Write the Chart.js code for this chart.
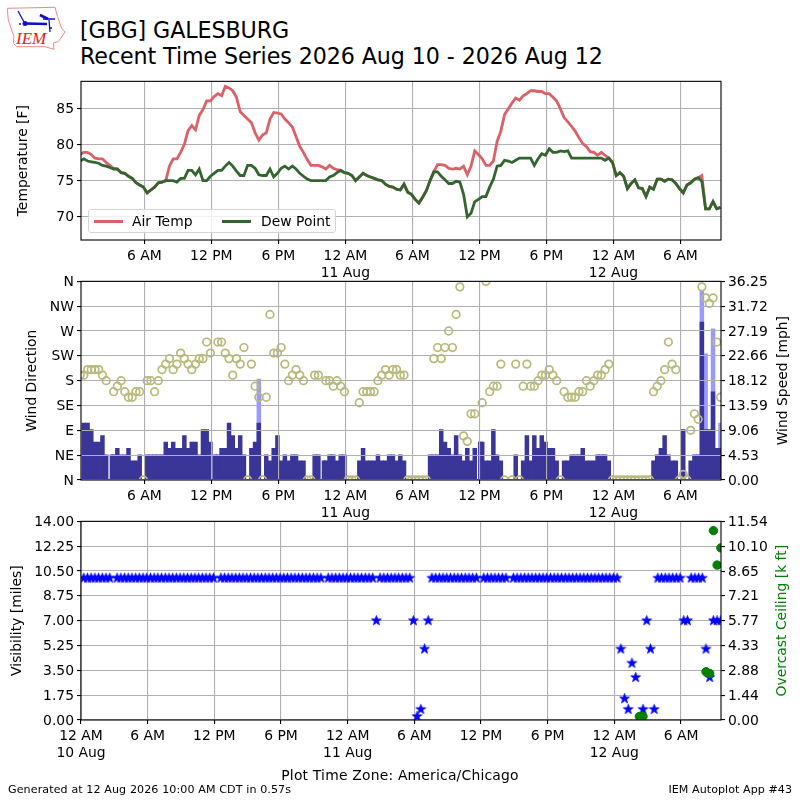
<!DOCTYPE html>
<html><head><meta charset="utf-8">
<script src="https://cdn.jsdelivr.net/npm/chart.js@4"></script>
<style>
html,body{margin:0;padding:0;background:#fff;width:800px;height:800px;overflow:hidden}
body{position:relative;font-family:"DejaVu Sans";color:#000}
canvas{position:absolute;left:0}
.t{position:absolute;white-space:nowrap;line-height:1}
#legend{position:absolute;left:87.5px;top:208.5px;width:248px;height:24px;border:1px solid #d5d5d5;border-radius:3px;background:rgba(255,255,255,.8);box-sizing:border-box;z-index:5}
#legend i{position:absolute;height:3px;top:10px;width:29px}
#legend span{position:absolute;top:3px;font-size:13.9px;line-height:16px;white-space:nowrap}
</style></head><body>
<svg style="position:absolute;left:0;top:0" width="70" height="55" viewBox="0 0 70 55">
<path d="M7.3 8.3 L55 7.3 L57.5 16.5 L61.5 28 L65 32 L58.5 41.5 L53.5 43 L54 49.3 L45 46.7 L16.7 46.7 L13.3 43.3 L14 36.7 L8.3 20 Z" fill="none" stroke="#e88" stroke-width="1"/>
<path d="M25 23.5 L47 24 M40 15 L50 19.5 M18 11 L24 22 M49 20 L50 32 M43 19 L55 19" stroke="#11c" stroke-width="1.3" fill="none"/>
<path d="M25 23.5 L47 24 M40 15 L48 19" stroke="#11c" stroke-width="2.6" fill="none"/>
<circle cx="25" cy="23.5" r="2.5" fill="#11c"/><circle cx="20" cy="24" r="1" fill="#11c"/><circle cx="51" cy="28" r="1" fill="#11c"/>
<text x="16" y="44" font-family="Liberation Serif" font-style="italic" font-size="17" fill="#d22">IEM</text>
</svg>
<div class="t" id="t1" style="left:80px;top:19px;font-size:22.2px;letter-spacing:-.09px">[GBG] GALESBURG</div>
<div class="t" id="t2" style="left:80px;top:45px;font-size:22.2px;letter-spacing:-.09px">Recent Time Series 2026 Aug 10 - 2026 Aug 12</div>
<div id="legend">
<i style="left:5px;background:#dc6068"></i><span style="left:43.5px">Air Temp</span>
<i style="left:133.5px;background:#33662f"></i><span style="left:172.5px">Dew Point</span>
</div>
<canvas id="c1" style="top:70px" width="800" height="210"></canvas>
<canvas id="c2" style="top:270px" width="800" height="255"></canvas>
<canvas id="c3" style="top:510px" width="800" height="260"></canvas>
<div class="t" style="left:0;width:800px;text-align:center;top:769px;font-size:13.9px;letter-spacing:.2px">Plot Time Zone: America/Chicago</div>
<div class="t" style="left:8px;top:784px;font-size:11.1px;letter-spacing:.1px">Generated at 12 Aug 2026 10:00 AM CDT in 0.57s</div>
<div class="t" style="right:8px;top:784px;font-size:11.1px;letter-spacing:.05px">IEM Autoplot App #43</div>
<script>
const firstObsHour = 0.25, obsStepHours = 1/3;
const airTemp = [78.6,78.9,78.9,78.6,78.1,78,78,77.5,77.1,76.7,76.6,76.1,76,75.6,75.3,74.7,74.4,74.1,73.3,73.7,74.1,74.7,74.8,75,77,78,78,78.9,80,81.9,82.6,82,84,84.8,86,86,86.6,87,86.7,88,87.8,87.4,86.5,84.5,84,83.5,83,81.6,80.6,81.3,81.6,83.5,84.4,84.3,84.2,83.5,83,82.4,81.1,79.7,78.9,77.9,77.1,77.1,77.1,76.9,76.6,77.1,76.7,76.5,76.4,76.1,76,75.7,75,75.5,76,75.7,75.5,75.3,75.1,75,74.5,74.2,74.1,73.8,73.7,74.5,73.4,73.1,72.4,71.9,72.7,73.6,75,76.2,77.2,77.2,77.1,76.7,76.6,76.7,76.6,77,75.8,77,79.1,78.6,78,77.1,77.1,77.7,80.4,81.8,84.1,84.9,85.7,86.4,86.1,86.7,87,87.4,87.4,87.3,87.3,87,87,86.5,86,84.9,83.7,83.1,82.5,81.8,80.9,80.1,79.7,79,78.9,78.5,78.9,78.5,78.1,77.5,75.7,76.1,75.6,73.9,74.6,75.1,74,73.9,72.8,74.1,73.8,75.2,75.2,74.9,75.2,75.1,74.6,73.9,73.3,74.4,74.7,75.2,75.4,75.7,71.1,71.1,72.1,71.1,71.3];
const dewPoint = [77.7,78,77.7,77.6,77.5,77.4,77.1,77,76.8,76.6,76.6,76.1,76,75.6,75.3,74.7,74.4,74.1,73.3,73.7,74.1,74.7,74.8,75,75,75,74.8,75.3,75.3,76.4,76.4,75.8,76.6,75,75,75.6,76,76.4,76.4,77,77.5,77,76.3,75.7,75.7,77.1,77.1,76.7,75.8,75.7,75.7,76.6,75.5,76,76.7,77,76.6,77,76.6,76,75.6,75.2,75,75,75,75,75,75.5,75.7,76.1,76.4,76.1,76,75.7,75,75.5,76,75.7,75.5,75.3,75.1,75,74.5,74.2,74.1,73.8,73.7,74.5,73.4,73.1,72.4,71.9,72.7,73.6,75,76.2,76.2,75.6,75.1,74.6,74.6,74.9,74.8,73.1,70,70.5,72.1,72.4,72.8,72.8,74.1,75.2,77,77.1,77.8,77.7,77.5,77.8,78.1,78.1,78.1,78.1,77.1,78,78.7,78.5,79.4,78.9,78.9,79.1,79,79.1,78.1,78.1,78.1,78.1,78.1,78.1,78.1,78.1,78.1,77.8,78.1,77.5,75.7,76.1,75.6,73.9,74.6,75.1,74,73.9,72.8,74.1,73.8,75.2,75.2,74.9,75.2,75.1,74.6,73.9,73.3,74.4,74.7,75.2,75.4,74.9,71.1,71.1,72.1,71.1,71.3];
const windDir = [190,190,200,200,200,200,190,180,null,160,170,180,160,150,150,160,160,0,180,180,160,180,200,210,220,200,210,230,220,210,200,210,220,220,250,230,null,250,250,230,220,190,220,210,240,0,210,170,150,0,150,300,230,230,240,210,180,190,200,190,180,0,0,190,190,null,180,180,170,180,170,160,0,0,0,140,160,160,160,160,180,190,200,190,200,200,190,190,0,0,0,0,0,0,null,220,240,220,240,270,240,300,350,80,70,120,120,null,140,360,160,170,170,210,0,null,0,210,0,170,210,170,170,180,190,190,200,190,180,0,160,150,150,150,160,160,180,170,180,190,190,200,210,0,0,0,0,0,0,0,0,0,0,0,160,170,180,200,250,210,200,0,10,0,90,120,110,350,330,320,330,250,150];
const windSpeed = [null,10.4,10.4,9.2,6.9,6.9,8.1,4.6,null,4.6,5.8,4.6,4.6,5.8,3.5,3.5,4.6,0,4.6,4.6,4.6,4.6,4.6,6.9,5.8,6.9,5.8,5.8,8.1,5.8,6.9,6.9,4.6,9.2,9.2,6.9,null,4.6,5.8,5.8,10.4,8.1,5.8,8.1,4.6,0,5.8,6.9,10.4,0,4.6,3.5,5.8,8.1,3.5,4.6,3.5,4.6,4.6,3.5,3.5,0,0,4.6,4.6,null,3.5,4.6,4.6,3.5,4.6,4.6,0,0,0,3.5,5.8,3.5,3.5,3.5,4.6,3.5,3.5,4.6,4.6,3.5,4.6,3.5,0,0,0,0,0,0,4.6,4.6,4.6,9.2,6.9,5.8,4.6,8.1,4.6,3.5,5.8,3.5,5.8,null,6.9,3.5,3.5,9.2,4.6,3.5,0,null,0,4.6,0,3.5,8.1,3.5,8.1,5.8,8.1,6.9,5.8,5.8,3.5,0,3.5,3.5,4.6,4.6,4.6,5.8,3.5,3.5,3.5,4.6,4.6,4.6,3.5,0,0,0,0,0,0,0,0,0,0,0,3.5,4.6,5.8,8.1,4.6,3.5,3.5,0,9.2,0,3.5,4.6,4.6,28.8,9.2,9.2,16.1,5.8,5.8];
const offGridBarObs = [8.55,36.3,65.5,107.5];
const offGridBarSpeed = [4.6,4.6,3.5,6.9];
const gustObs = [48,167,168,170,172];
const gustSpeed = [18.4,34.5,23,27.6,10.4];
const visibility = [10,10,10,10,10,10,10,10,null,10,10,10,10,10,10,10,10,10,10,10,10,10,10,10,10,10,10,10,10,10,10,10,10,10,10,10,null,10,10,10,10,10,10,10,10,10,10,10,10,10,10,10,10,10,10,10,10,10,10,10,10,10,10,10,10,null,10,10,10,10,10,10,10,10,10,10,10,10,10,7,10,10,10,10,10,10,10,10,10,7,0.25,0.75,5,7,10,10,10,10,10,10,10,10,10,10,10,10,10,null,10,10,10,10,10,10,10,null,10,10,10,10,10,10,10,10,10,10,10,10,10,10,10,10,10,10,10,10,10,10,10,10,10,10,10,10,10,5,1.5,0.75,4,3,null,0.75,7,5,0.75,10,10,10,10,10,10,10,7,7,10,10,10,10,5,3,7,7,7];
const ceilingObs = [150,151,168,169,170,171,172];
const ceilingKft = [0.2,0.2,2.8,2.7,11,9,10];
const hourTicksUpper = [6,12,18,24,30,36,42,48,54];
const hourTicksLower = [0,6,12,18,24,30,36,42,48,54];
const hourLabels = {0:["12 AM","10 Aug"],6:"6 AM",12:"12 PM",18:"6 PM",24:["12 AM","11 Aug"],30:"6 AM",36:"12 PM",42:"6 PM",48:["12 AM","12 Aug"],54:"6 AM"};
const tempTicks = [70,75,80,85];
const dirTicks = [0,45,90,135,180,225,270,315,360];
const dirLabels = ["N","NE","E","SE","S","SW","W","NW","N"];
const speedLabels = ["0.00","4.53","9.06","13.59","18.12","22.66","27.19","31.72","36.25"];
const visLabels = ["0.00","1.75","3.50","5.25","7.00","8.75","10.50","12.25","14.00"];
const ceilLabels = ["0.00","1.44","2.88","4.33","5.77","7.21","8.65","10.10","11.54"];

const hourOf = i => firstObsHour + i*obsStepHours;
const series = arr => arr.map((v,i)=>({x:hourOf(i),y:v}));
const pick = (idx,vals) => idx.map((n,k)=>({x:hourOf(n),y:vals[k]}));

Chart.defaults.color='#000';
Chart.defaults.font.family='"DejaVu Sans"';
Chart.defaults.font.size=13.9;
Chart.defaults.animation=false;
Chart.defaults.responsive=false;
Chart.defaults.devicePixelRatio=1;
Chart.defaults.plugins.legend.display=false;
Chart.defaults.plugins.tooltip.enabled=false;

const frame={id:'frame',afterDraw(c){const a=c.chartArea,x=c.ctx;x.save();x.strokeStyle='#000';x.lineWidth=1.1;x.strokeRect(a.left,a.top,a.right-a.left,a.bottom-a.top);x.restore();}};
const grid={color:'#b0b0b0',lineWidth:1.1,tickColor:'#000',tickLength:4};
function xAxis(vals,min,max,h,z){return {type:'linear',min,max,offset:false,
  grid:{...grid,offset:false,z:z||0},border:{display:false},
  afterBuildTicks:a=>{a.ticks=vals.map(v=>({value:v}))},
  afterFit:a=>{a.height=h},
  ticks:{autoSkip:false,maxRotation:0,minRotation:0,padding:4,callback:v=>hourLabels[v]}};}
function yAxis(pos,min,max,vals,labels,title,titlePad,z,color,drawGrid){const w=pos==='left'?81:79;return {type:'linear',position:pos,min,max,
  grid:{...grid,z:z||0,drawOnChartArea:drawGrid!==false},border:{display:false},
  afterBuildTicks:a=>{a.ticks=vals.map(v=>({value:v}))},
  afterFit:a=>{a.width=w;
    if(pos==='right'){a.drawTitle=function(){const x=this.ctx,o=this.options.title;x.save();
      x.translate(this.right-8.3-titlePad,(this.top+this.bottom)/2);x.rotate(-Math.PI/2);
      x.textAlign='center';x.textBaseline='middle';x.font='13.9px "DejaVu Sans"';x.fillStyle=o.color;
      x.fillText(o.text,0,0);x.restore();};}},
  ticks:{autoSkip:false,padding:3,labelOffset:1,callback:(v,i)=>labels?labels[i]:String(v)},
  title:{display:true,text:title,color:color||'#000',padding:{top:titlePad,bottom:0}}};}
const upperMin=0.33,upperMax=57.63;
const nums=a=>a.map(Number);

new Chart(document.getElementById('c1'),{type:'line',plugins:[frame],
 data:{datasets:[
  {label:'Air Temp',data:series(airTemp),borderColor:'#dc6068',borderWidth:2.8,pointRadius:0,tension:0,order:2},
  {label:'Dew Point',data:series(dewPoint),borderColor:'#33662f',borderWidth:2.8,pointRadius:0,tension:0,order:1}]},
 options:{layout:{padding:{top:11,right:79,left:0,bottom:0}},
  scales:{x:xAxis(hourTicksUpper,upperMin,upperMax,40),
          y:yAxis('left',66.8,88.7,tempTicks,null,'Temperature [F]',14.7)}}});

new Chart(document.getElementById('c2'),{type:'bar',plugins:[frame],
 data:{datasets:[
  {type:'scatter',label:'Wind Direction',yAxisID:'y',data:series(windDir),showLine:false,pointRadius:3.8,pointBorderWidth:1.7,pointBackgroundColor:'rgba(0,0,0,0)',pointBorderColor:'#b9b97a',clip:0,order:0},
  {label:'Wind Speed',yAxisID:'y2',data:series(windSpeed).concat(pick(offGridBarObs,offGridBarSpeed)),backgroundColor:'#3a3599',barThickness:3.85,grouped:false,order:1},
  {label:'Wind Gust',yAxisID:'y2',data:pick(gustObs,gustSpeed),backgroundColor:'#9a99ff',barThickness:3.85,grouped:false,order:2}]},
 options:{layout:{padding:{top:10,left:0,right:0,bottom:0}},
  scales:{x:xAxis(hourTicksUpper,upperMin,upperMax,45,1),
          y:yAxis('left',0,360,dirTicks,dirLabels,'Wind Direction',23.7,1),
          y2:yAxis('right',0,36.25,nums(speedLabels),speedLabels,'Wind Speed [mph]',8.7,0,null,false)}}});

const starImg=document.createElement('canvas');starImg.width=starImg.height=13;
{const s=starImg.getContext('2d');s.fillStyle='#0000ff';s.strokeStyle='#0000ff';s.lineWidth=.9;s.lineJoin='miter';s.beginPath();
 for(let k=0;k<10;k++){const r=k%2?2.0:5.1,a=-Math.PI/2+k*Math.PI/5;const px=6.5+r*Math.cos(a),py=6.5+r*Math.sin(a);k?s.lineTo(px,py):s.moveTo(px,py);}
 s.closePath();s.fill();s.stroke();}

new Chart(document.getElementById('c3'),{type:'scatter',plugins:[frame],
 data:{datasets:[
  {label:'Visibility',yAxisID:'y',data:series(visibility),pointStyle:starImg,pointRadius:5,backgroundColor:'#0000ff',clip:0,order:2},
  {label:'Overcast Ceiling',yAxisID:'y2',data:pick(ceilingObs,ceilingKft),pointRadius:4.2,backgroundColor:'#008000',borderColor:'#008000',clip:0,order:1}]},
 options:{layout:{padding:{top:10,left:0,right:0,bottom:0}},
  scales:{x:xAxis(hourTicksLower,0,57.6,50),
          y:yAxis('left',0,14,nums(visLabels),visLabels,'Visibility [miles]',8.7),
          y2:yAxis('right',0,11.54,nums(ceilLabels),ceilLabels,'Overcast Ceiling [k ft]',9.7,0,'#008000',false)}}});
</script>
</body></html>
